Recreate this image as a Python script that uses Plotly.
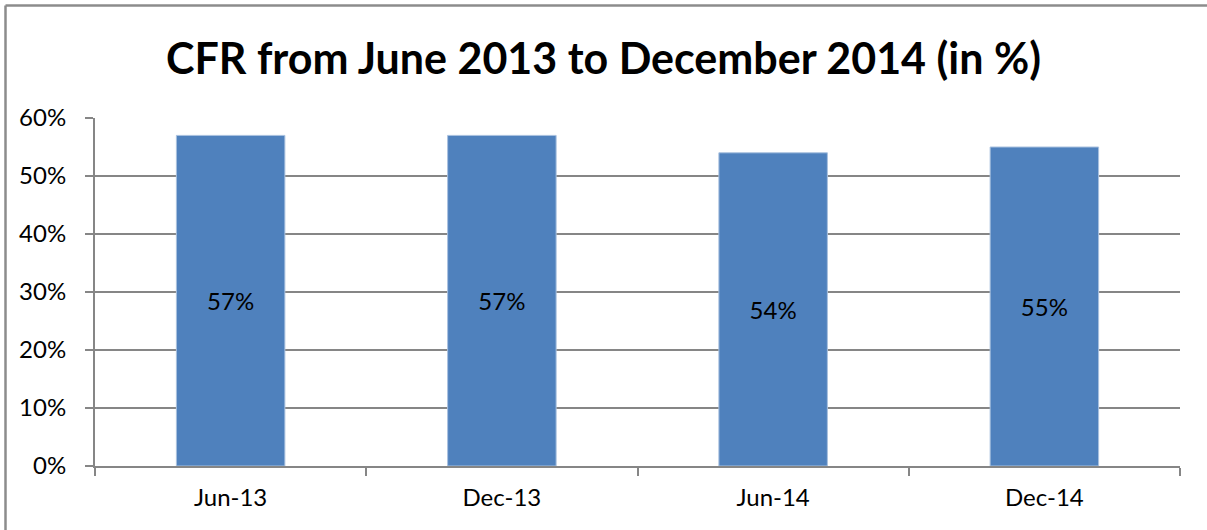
import plotly.graph_objects as go

# Case fatality rate at each half-year checkpoint
periods = ["Jun-13", "Dec-13", "Jun-14", "Dec-14"]
cfr = [0.57, 0.57, 0.54, 0.55]
bar_labels = ["57%", "57%", "54%", "55%"]

y_ticks = [0, 0.1, 0.2, 0.3, 0.4, 0.5, 0.6]
y_tick_text = ["0%", "10%", "20%", "30%", "40%", "50%", "60%"]

W, H = 1207, 530
L, R, T, B = 95, 27, 118, 64
FONT = "Lato, Calibri, 'Open Sans', sans-serif"
GRID = "#868686"

fig = go.Figure(
    go.Bar(
        x=periods,
        y=cfr,
        text=bar_labels,
        textposition="inside",
        insidetextanchor="middle",
        textangle=0,
        textfont=dict(family=FONT, size=24, color="#000000"),
        marker=dict(color="#4F81BD", line=dict(color="#A9C1DF", width=1)),
        width=0.4,
        hoverinfo="x+y",
    )
)

# Outer chart frame (left and top edges)
pw, ph = W - L - R, H - T - B
def px_x(v):
    return (v - L) / pw
def px_y(v):
    return 1 - (v - T) / ph

frame = dict(type="line", xref="paper", yref="paper",
             line=dict(color="#8C8C8C", width=2.5), layer="above")
fig.add_shape(**frame, x0=px_x(5.5), y0=px_y(5.5), x1=px_x(W + 2), y1=px_y(5.5))
fig.add_shape(**frame, x0=px_x(5.5), y0=px_y(5.5), x1=px_x(5.5), y1=px_y(H + 2))

fig.update_layout(
    width=W,
    height=H,
    margin=dict(l=L, r=R, t=T, b=B, pad=0),
    paper_bgcolor="#FFFFFF",
    plot_bgcolor="#FFFFFF",
    showlegend=False,
    bargap=0.6,
    font=dict(family=FONT, color="#000000"),
    title=dict(
        text="<b>CFR from June 2013 to December 2014 (in %)</b>",
        x=0.5,
        xanchor="center",
        y=1 - 59 / H,
        yanchor="middle",
        font=dict(family=FONT, size=43, color="#000000"),
    ),
    xaxis=dict(
        type="category",
        showgrid=False,
        showline=True,
        linecolor=GRID,
        linewidth=2,
        ticks="outside",
        ticklen=8,
        tickwidth=2,
        tickcolor=GRID,
        tickson="boundaries",
        tickfont=dict(family=FONT, size=24, color="#000000"),
        ticklabelstandoff=9,
        fixedrange=True,
    ),
    yaxis=dict(
        range=[0, 0.6],
        tickvals=y_ticks,
        ticktext=y_tick_text,
        showgrid=True,
        gridcolor=GRID,
        gridwidth=2,
        zeroline=False,
        showline=True,
        linecolor=GRID,
        linewidth=2,
        ticks="outside",
        ticklen=8,
        tickwidth=2,
        tickcolor=GRID,
        tickfont=dict(family=FONT, size=24, color="#000000"),
        ticklabelstandoff=14,
        fixedrange=True,
    ),
)

fig.write_html("out.html")
